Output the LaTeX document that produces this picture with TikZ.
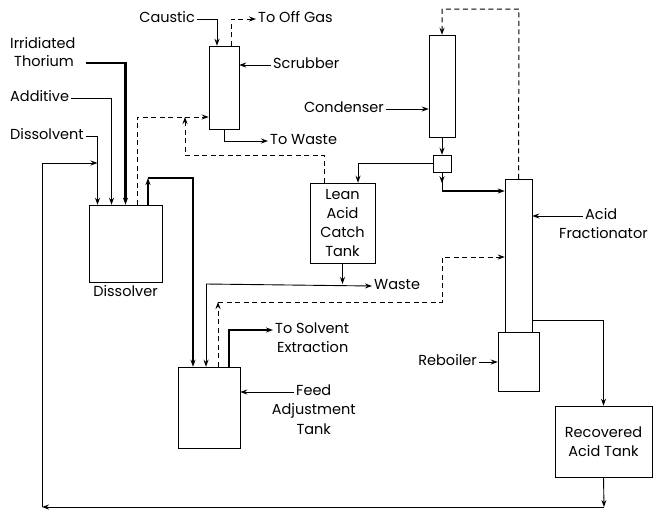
\documentclass[tikz,border=0pt]{standalone}
\usepackage{fontspec}
\setmainfont{Poppins}
\usetikzlibrary{positioning,arrows.meta}

\begin{document}
\begin{tikzpicture}[
      x=1pt, y=-1pt,
      font=\fontsize{14.5}{19}\selectfont,
      >={Stealth[length=7pt,width=5pt]},
      node distance=0pt,
      unit/.style={draw, line width=0.5pt, inner sep=0pt, align=center},
      lbl/.style={inner xsep=2pt, inner ysep=0pt, text height=10pt, text depth=3.5pt},
      pipe/.style={line width=0.9pt},
      heavy/.style={line width=2.4pt},
      vapour/.style={line width=1pt, dash pattern=on 5pt off 3.5pt}
  ]
    \useasboundingbox (0,0) rectangle (653,509);

    % process units
    \node[unit, minimum width=73pt, minimum height=77pt] (dis) at (125.5,243.5) {};
    \node[unit, minimum width=30pt, minimum height=83pt] (scr) at (224,87.5) {};
    \node[unit, minimum width=65pt, minimum height=80pt] (lat) at (342.5,223) {Lean\\Acid\\Catch\\Tank};
    \node[unit, minimum width=62pt, minimum height=81pt] (fat) at (209,407.5) {};
    \node[unit, minimum width=26pt, minimum height=102pt] (cnd) at (442,86) {};
    \node[unit, minimum width=18pt, minimum height=17pt] (sep) at (442,163.5) {};
    \node[unit, minimum width=27pt, minimum height=153pt] (fra) at (518.5,255.5) {};
    \node[unit, minimum width=41pt, minimum height=59pt] (reb) at (518.5,361.5) {};
    \node[unit, minimum width=97pt, minimum height=71pt] (rat) at (603.5,441.5) {Recovered\\Acid Tank};

    % labels
    \node[lbl, anchor=west] (irr) at (8,45) {Irridiated};
    \node[lbl, anchor=west] (thor) at (12,63) {Thorium};
    \node[lbl, anchor=west] (add) at (8,98) {Additive};
    \node[lbl, anchor=west] (diss) at (8,136) {Dissolvent};
    \node[lbl, below=4pt of dis] (disl) {Dissolver};
    \node[lbl, anchor=east] (caus) at (197,19) {Caustic};
    \node[lbl, anchor=west] (gas) at (256,19) {To Off Gas};
    \node[lbl, anchor=west] (scrl) at (271,65) {Scrubber};
    \node[lbl, anchor=west] (tw) at (268,141) {To Waste};
    \node[lbl, anchor=east] (cndl) at (386,109) {Condenser};
    \node[lbl, anchor=west] (acid) at (583,216) {Acid};
    \node[lbl, anchor=west] (frac) at (557,235) {Fractionator};
    \node[lbl, anchor=west] (waste) at (372,286) {Waste};
    \node[lbl, anchor=west] (tse) at (273,330) {To Solvent};
    \node[lbl, anchor=west] (extr) at (275,349) {Extraction};
    \node[lbl, anchor=west] (feed) at (294,392) {Feed};
    \node[lbl, below=5.5pt of feed.south, anchor=north] (adj) {Adjustment};
    \node[lbl, below=5.5pt of adj.south, anchor=north] (ftank) {Tank};
    \node[lbl, anchor=east] (rbl) at (479,362) {Reboiler};

    % junction points
    \coordinate (rin) at (97.5,163);
    \coordinate (retl) at (42,507);
    \coordinate (ret) at (604,507);
    \coordinate (dturn) at (148,178);
    \coordinate (jl) at (185,155);
    \coordinate (jup) at (185,117);
    \coordinate (ctop) at (519,9);
    \coordinate (sbot) at (442,191);
    \coordinate (wl) at (206,284);
    \coordinate (fturn) at (218,302);
    \coordinate (fj) at (442,257);

    % feeds to dissolver
    \draw[heavy,->] ([xshift=10pt]thor.east) -| (dis.north);
    \draw[pipe,->] (add.east) -| ([xshift=-14pt]dis.north);
    \draw[pipe,->] (diss.east) -| ([xshift=-28pt]dis.north);
    \draw[pipe,->] (rat.south) -- (ret);
    \draw[pipe,->] (ret) -- (retl);
    \draw[pipe,->] (retl) |- (rin);

    % dissolver to feed tank and scrubber
    \draw[heavy,->] ([xshift=22.5pt]dis.north) -- (dturn);
    \draw[heavy,->] (dturn) -| ([xshift=-16pt]fat.north);
    \draw[vapour,->] ([xshift=11.5pt]dis.north) |- ([yshift=-29.5pt]scr.west);
    \draw[vapour,->] ([xshift=-18.5pt]lat.north) |- (jl) -- (jup);

    % scrubber
    \draw[pipe,->] (caus.east) -| ([xshift=-7pt]scr.north);
    \draw[vapour,->] ([xshift=7pt]scr.north) |- (gas.west);
    \draw[pipe,->] (scrl.west) -- (scrl.west -| scr.east);
    \draw[pipe,->] (scr.south) |- (tw.west);

    % condenser and fractionator
    \draw[pipe,->] (cndl.east) -- (cndl.east -| cnd.west);
    \draw[vapour,->] (fra.north) -- (ctop) -| (cnd.north);
    \draw[pipe,->] (cnd.south) -- (sep.north);
    \draw[pipe,->] (sep.west) -| ([xshift=15.5pt]lat.north);
    \draw[pipe] (sep.south) -- (sbot);
    \draw[pipe,->] (sep.south) -- ([yshift=-11pt]sep.south);
    \draw[line width=1.3pt,->] (sbot) -- (sbot -| fra.west);
    \draw[pipe,->] (acid.west) -- (acid.west -| fra.east);
    \draw[pipe,->] ([yshift=-64.5pt]fra.east) -| (rat.north);
    \draw[pipe,->] (rbl.east) -- (rbl.east -| reb.west);

    % lean acid catch tank outlets
    \draw[pipe,->] (lat.south) -- (lat.south |- wl);
    \draw[pipe,->] (wl) -- (waste.west);
    \draw[pipe,->] (wl) -- (wl |- fat.north);

    % feed adjustment tank
    \draw[vapour,->] ([xshift=9pt]fat.north) -- (fturn);
    \draw[vapour,->] (fturn) -| (fj) -- (fj -| fra.west);
    \draw[heavy,->] ([xshift=20pt]fat.north) |- (tse.west);
    \draw[pipe,->] (feed.west) -- (feed.west -| fat.east);
  \end{tikzpicture}
\end{document}
